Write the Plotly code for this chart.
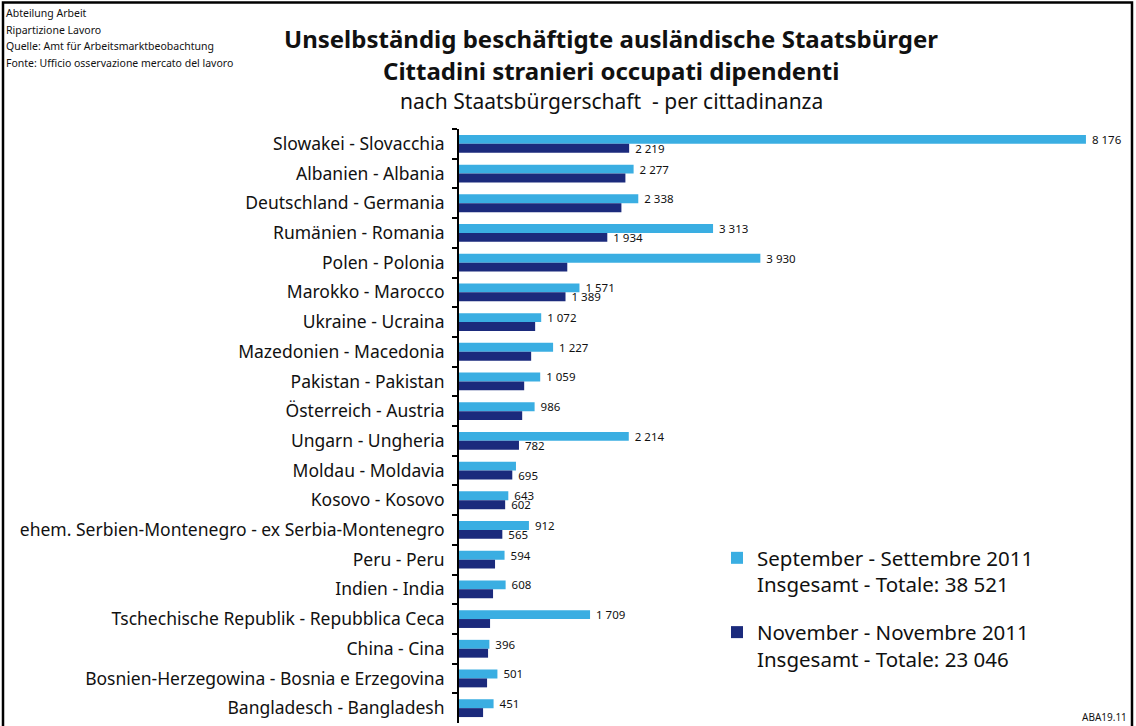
import plotly.graph_objects as go

# ---------------- data ----------------
countries = [
    "Slowakei - Slovacchia", "Albanien - Albania", "Deutschland - Germania",
    "Rumänien - Romania", "Polen - Polonia", "Marokko - Marocco",
    "Ukraine - Ucraina", "Mazedonien - Macedonia", "Pakistan - Pakistan",
    "Österreich - Austria", "Ungarn - Ungheria", "Moldau - Moldavia",
    "Kosovo - Kosovo", "ehem. Serbien-Montenegro - ex Serbia-Montenegro",
    "Peru - Peru", "Indien - India", "Tschechische Republik - Repubblica Ceca",
    "China - Cina", "Bosnien-Herzegowina - Bosnia e Erzegovina",
    "Bangladesch - Bangladesh",
]
sep_2011 = [8176, 2277, 2338, 3313, 3930, 1571, 1072, 1227, 1059, 986,
            2214, 743, 643, 912, 594, 608, 1709, 396, 501, 451]
nov_2011 = [2219, 2170, 2118, 1934, 1412, 1389, 993, 941, 850, 824,
            782, 695, 602, 565, 470, 444, 405, 379, 366, 314]
# which values carry a printed label in the original
sep_labelled = [1, 1, 1, 1, 1, 1, 1, 1, 1, 1, 1, 0, 1, 1, 1, 1, 1, 1, 1, 1]
nov_labelled = [1, 0, 0, 1, 0, 1, 0, 0, 0, 0, 1, 1, 1, 1, 0, 0, 0, 0, 0, 0]
total_sep = 38521
total_nov = 23046

series_names = ["September - Settembre 2011", "November - Novembre 2011"]
total_prefix = "Insgesamt - Totale: "
title_lines = [
    "Unselbständig beschäftigte ausländische Staatsbürger",
    "Cittadini stranieri occupati dipendenti",
    "nach Staatsbürgerschaft\u00a0 - per cittadinanza",
]
notes = ["Abteilung Arbeit", "Ripartizione Lavoro",
         "Quelle: Amt für Arbeitsmarktbeobachtung",
         "Fonte: Ufficio osservazione mercato del lavoro"]
code_label = "ABA19.11"


def fmt(v):
    return f"{v:,}".replace(",", " ")


# ---------------- layout geometry ----------------
W, H = 1136, 726
ML, MR, MT, MB = 459, 16, 129, 3
PW, PH = W - ML - MR, H - MT - MB
FONT = "Noto Sans"
LIGHT = "#3aaee2"
DARK = "#1b2a7c"


def px(x):
    return (x - ML) / PW


def py(y):
    return 1 - (y - MT) / PH


def labels(values, shown):
    return ["\u00a0" + fmt(v) if s else "" for v, s in zip(values, shown)]


fig = go.Figure()
fig.add_trace(go.Bar(
    y=countries, x=sep_2011, orientation="h",
    name=series_names[0] + "<br>" + total_prefix + fmt(total_sep),
    marker=dict(color=LIGHT, line=dict(width=0)),
    text=labels(sep_2011, sep_labelled),
    textposition="outside", constraintext="none", cliponaxis=False,
    textfont=dict(size=11.5, color="#111", family=FONT),
    legendgroup="a",
))
fig.add_trace(go.Bar(
    y=countries, x=nov_2011, orientation="h",
    name=series_names[1] + "<br>" + total_prefix + fmt(total_nov),
    marker=dict(color=DARK, line=dict(width=0)),
    text=labels(nov_2011, nov_labelled),
    textposition="outside", constraintext="none", cliponaxis=False,
    textfont=dict(size=11.5, color="#111", family=FONT),
    legendgroup="b",
))

annotations = []
ys = [38, 70, 101]
sizes = [24, 24, 21]
for i, (t, yy) in enumerate(zip(title_lines, ys)):
    annotations.append(dict(
        text=f"<b>{t}</b>" if i < 2 else t, x=px(611), y=py(yy),
        xref="paper", yref="paper", xanchor="center", yanchor="middle",
        showarrow=False,
        font=dict(size=sizes[i], color="#111", family=FONT)))
for i, n in enumerate(notes):
    annotations.append(dict(
        text=n, x=px(4), y=py(13 + i * 16.6), xref="paper", yref="paper",
        xanchor="left", yanchor="middle", showarrow=False,
        font=dict(size=10.5, color="#111", family=FONT)))
annotations.append(dict(
    text=code_label, x=px(1129), y=py(717), xref="paper", yref="paper",
    xanchor="right", yanchor="middle", showarrow=False,
    font=dict(size=10, color="#111", family=FONT)))

fig.update_layout(
    width=W, height=H,
    margin=dict(l=ML, r=MR, t=MT, b=MB, pad=0),
    paper_bgcolor="white", plot_bgcolor="white",
    barmode="group", bargap=0.4, bargroupgap=0,
    font=dict(family=FONT, color="#111"),
    showlegend=True,
    legend=dict(
        x=px(717), y=py(538), xanchor="left", yanchor="top",
        font=dict(size=20.5, color="#111", family=FONT),
        valign="top", traceorder="grouped", tracegroupgap=18,
        bgcolor="rgba(0,0,0,0)", borderwidth=0,
    ),
    xaxis=dict(range=[0, 8620], visible=False, showgrid=False, zeroline=False),
    yaxis=dict(
        autorange="reversed", showgrid=False, zeroline=False,
        showline=True, linecolor="black", linewidth=2,
        ticks="outside", tickson="boundaries", ticklen=5, tickwidth=1.5,
        tickcolor="black", ticklabelstandoff=9,
        tickfont=dict(size=17.5, color="#111", family=FONT),
    ),
    annotations=annotations,
    shapes=[dict(type="rect", xref="paper", yref="paper",
                 x0=px(3), x1=px(1132), y0=py(731), y1=py(2.5),
                 line=dict(color="black", width=2.5), fillcolor="rgba(0,0,0,0)",
                 layer="above")],
)

fig.write_html("out.html", config={"displayModeBar": False},
               post_script="document.body.style.margin='0';")
